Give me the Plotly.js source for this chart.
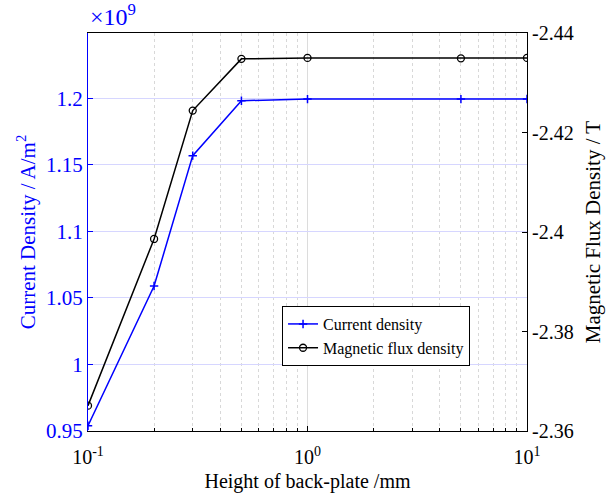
<!DOCTYPE html>
<html>
<head>
<meta charset="utf-8">
<script src="https://cdn.plot.ly/plotly-3.0.1.min.js"></script>
<style>
  html, body { margin: 0; padding: 0; background: #fff; }
  #chart { width: 606px; height: 500px; }
</style>
</head>
<body>
<div id="chart"></div>
<script>
// Back-plate height sweep (mm)
const heights = [0.1, 0.2, 0.3, 0.5, 1, 5, 10];
// Current density, A/m^2
const currentDensity = [0.954e9, 1.059e9, 1.157e9, 1.1983e9, 1.1995e9, 1.1995e9, 1.1996e9];
// Magnetic flux density, T
const fluxDensity = [-2.3651, -2.3986, -2.4244, -2.4348, -2.4350, -2.4349, -2.4350];

const xTickVals = [0.1, 1, 10];
const xTickText = ['10<sup>-1</sup>', '10<sup>0</sup>', '10<sup>1</sup>'];
const xMinorVals = [0.2, 0.3, 0.4, 0.5, 0.6, 0.7, 0.8, 0.9, 2, 3, 4, 5, 6, 7, 8, 9];
const leftTickVals = [0.95e9, 1.0e9, 1.05e9, 1.1e9, 1.15e9, 1.2e9];
const leftTickText = ['0.95', '1', '1.05', '1.1', '1.15', '1.2'];
const rightTickVals = [-2.36, -2.38, -2.40, -2.42, -2.44];
const rightTickText = ['-2.36', '-2.38', '-2.4', '-2.42', '-2.44'];

const FONT = 'Liberation Serif, Times New Roman, serif';
const BLUE = '#0000ff';

const traces = [
  {
    x: heights, y: currentDensity, name: 'Current density',
    type: 'scatter', mode: 'lines+markers', yaxis: 'y',
    line: { color: BLUE, width: 1.5 },
    marker: { symbol: 'cross-thin-open', size: 6, color: BLUE, line: { color: BLUE, width: 1.5 } }
  },
  {
    x: heights, y: fluxDensity, name: 'Magnetic flux density',
    type: 'scatter', mode: 'lines+markers', yaxis: 'y2',
    line: { color: '#000000', width: 1.5 },
    marker: { symbol: 'circle-open', size: 7, color: '#000000', line: { color: '#000000', width: 1.3 } }
  }
];

const layout = {
  width: 606, height: 500,
  margin: { l: 88, r: 79, t: 33, b: 69 },
  paper_bgcolor: '#ffffff', plot_bgcolor: '#ffffff',
  font: { family: FONT, size: 20, color: '#000' },
  showlegend: true,
  legend: {
    x: 0.442, y: 0.314, xanchor: 'left', yanchor: 'top',
    bgcolor: '#ffffff', bordercolor: '#000000', borderwidth: 1,
    font: { family: FONT, size: 16, color: '#000' },
    tracegroupgap: 0, itemwidth: 30
  },
  xaxis: {
    type: 'log', range: [-1, 1],
    tickvals: xTickVals, ticktext: xTickText,
    ticks: 'inside', ticklen: 5, tickcolor: '#000',
    ticklabelstandoff: 8,
    showline: true, linecolor: '#000', linewidth: 1, mirror: true,
    showgrid: true, gridcolor: '#dcdcdc', gridwidth: 1,
    minor: {
      tickmode: 'array', tickvals: xMinorVals,
      showgrid: true, gridcolor: '#d8d8d8', griddash: 'dot',
      ticks: 'inside', ticklen: 3, tickcolor: '#000'
    },
    zeroline: false,
    tickfont: { family: FONT, size: 20, color: '#000' },
    title: { text: 'Height of back-plate /mm', font: { family: FONT, size: 20, color: '#000' }, standoff: 6 }
  },
  yaxis: {
    range: [0.95e9, 1.2492e9],
    tickvals: leftTickVals, ticktext: leftTickText,
    ticks: 'inside', ticklen: 5, tickcolor: BLUE,
    showline: true, linecolor: BLUE, linewidth: 1,
    showgrid: true, gridcolor: '#d6d6ff', gridwidth: 1,
    zeroline: false,
    tickfont: { family: FONT, size: 21, color: BLUE },
    title: { text: 'Current Density / A/m<sup>2</sup>', font: { family: FONT, size: 21, color: BLUE }, standoff: 4 }
  },
  yaxis2: {
    overlaying: 'y', side: 'right',
    range: [-2.36, -2.44],
    tickvals: rightTickVals, ticktext: rightTickText,
    ticks: 'inside', ticklen: 5, tickcolor: '#000',
    showline: true, linecolor: '#000', linewidth: 1,
    showgrid: false, zeroline: false,
    tickfont: { family: FONT, size: 20, color: '#000' },
    title: { text: 'Magnetic Flux Density / T', font: { family: FONT, size: 21, color: '#000' }, standoff: 12 }
  },
  annotations: [
    {
      xref: 'paper', yref: 'paper', x: 0, y: 1, xanchor: 'left', yanchor: 'bottom',
      yshift: 1, showarrow: false,
      text: '×10<sup>9</sup>', font: { family: FONT, size: 24, color: BLUE }
    }
  ]
};

Plotly.newPlot('chart', traces, layout, { displayModeBar: false, staticPlot: true });
</script>
</body>
</html>
